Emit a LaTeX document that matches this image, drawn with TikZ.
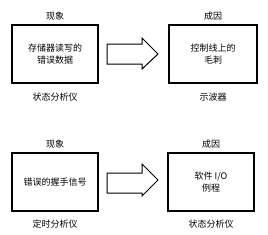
\documentclass[tikz,border=0pt]{standalone}
\usepackage{fontspec}
\newfontfamily\cjk{Noto Sans CJK SC}
\usetikzlibrary{positioning}
\tikzset{
  probbox/.style={draw=black,line width=1.4pt,minimum width=86pt,minimum height=58pt,
    align=center,font=\cjk\fontsize{9}{12.5}\selectfont,inner sep=0pt},
  lbl/.style={font=\cjk\fontsize{9}{10}\selectfont,inner sep=0pt},
  fatarrow/.style={draw=black,line width=1pt,fill=white,line join=miter}
}

\begin{document}
\begin{tikzpicture}[x=1pt,y=-1pt]
    \useasboundingbox (0,0) rectangle (268,234);
    % upper pair
    \node[probbox] (symA) at (55,54) {存储器读写的\\错误数据};
    \node[probbox,minimum width=88pt] (causeA) at (213,54) {控制线上的\\毛刺};
    \node[lbl,above=4pt of symA] (symAt) {现象};
    \node[lbl,below=9pt of symA] (symAb) {状态分析仪};
    \node[lbl,above=4pt of causeA] (causeAt) {成因};
    \node[lbl,below=9pt of causeA] (causeAb) {示波器};
    \draw[fatarrow] (107,44) -- (142,44) -- (142,38) -- (158,54) -- (142,69) -- (142,64) -- (107,64) -- cycle;
    % lower pair
    \node[probbox] (symB) at (55,182) {错误的握手信号};
    \node[probbox] (causeB) at (211,182) {软件 I/O\\例程};
    \node[lbl,above=4pt of symB] (symBt) {现象};
    \node[lbl,below=8pt of symB] (symBb) {定时分析仪};
    \node[lbl,above=4pt of causeB] (causeBt) {成因};
    \node[lbl,below=8pt of causeB] (causeBb) {状态分析仪};
    \draw[fatarrow] (107,173) -- (142,173) -- (142,164) -- (158,180) -- (142,196) -- (142,193) -- (107,193) -- cycle;
\end{tikzpicture}
\end{document}
